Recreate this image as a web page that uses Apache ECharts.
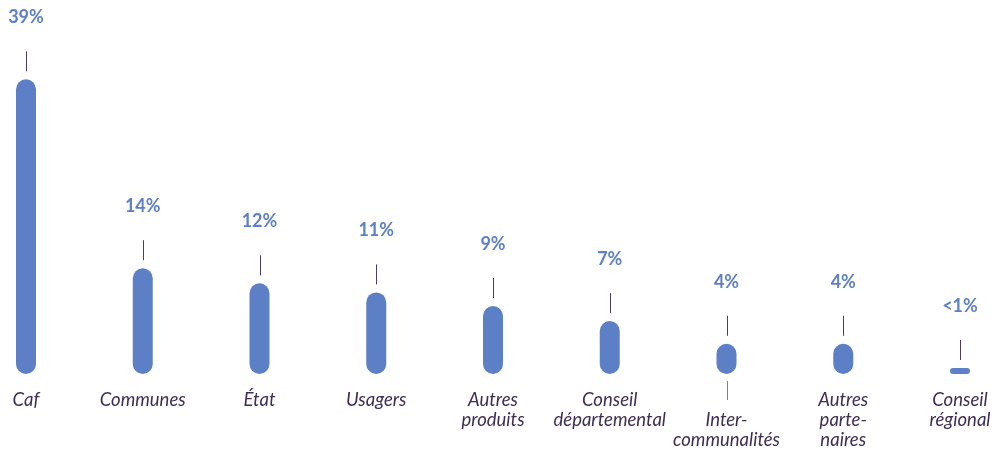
<!DOCTYPE html>
<html><head><meta charset="utf-8">
<script src="https://cdn.jsdelivr.net/npm/echarts@6/dist/echarts.min.js"></script>
<style>html,body{margin:0;padding:0;background:#fff}#c{width:996px;height:450px}</style>
</head><body><div id="c"></div>
<script>
var categories = ['Caf','Communes','État','Usagers','Autres\nproduits','Conseil\ndépartemental','\nInter-\ncommunalités','Autres\nparte-\nnaires','Conseil\nrégional'];
var values = [39, 14, 12, 10.8, 9, 7, 4, 4, 0.8];
var valueLabels = ['39%','14%','12%','11%','9%','7%','4%','4%','<1%'];
var underLine = [0, 0, 0, 0, 0, 0, 1, 0, 0];

var chart = echarts.init(document.getElementById('c'), null, {renderer:'canvas'});
chart.setOption({
  animation:false,
  grid:{left:26, right:36, top:0, bottom:74},
  xAxis:{type:'category', data:categories, boundaryGap:false,
    axisLine:{show:false}, axisTick:{show:false}, splitLine:{show:false},
    axisLabel:{interval:0, margin:16, color:'#3f2d55', fontFamily:'Lato', fontStyle:'italic', fontSize:18.5, lineHeight:20, verticalAlign:'top'}},
  yAxis:{type:'value', min:0, max:49.5, show:false, splitLine:{show:false}},
  series:[
    {type:'bar', data:values, barWidth:20,
     itemStyle:{color:'#5d7fc5', borderRadius:10},
     label:{show:true, position:'top', distance:53, color:'#5d7fc5', fontFamily:'Lato', fontWeight:'bold', fontSize:18,
       formatter:function(p){return valueLabels[p.dataIndex];}}},
    {type:'custom', data:values.map(function(v,i){return [i,v,underLine[i]];}), z:5, silent:true,
     renderItem:function(params, api){
       var top = api.coord([api.value(0), api.value(1)]);
       var base = api.coord([api.value(0), 0]);
       var x = Math.round(top[0]) + 0.5;
       var children = [{type:'line', shape:{x1:x, y1:top[1]-28, x2:x, y2:top[1]-8}, style:{stroke:'#4a3a5e', lineWidth:1}}];
       if (api.value(2)) {
         children.push({type:'line', shape:{x1:x, y1:base[1]+7, x2:x, y2:base[1]+26}, style:{stroke:'#8a6fc6', lineWidth:1}});
       }
       return {type:'group', children:children};
     }}
  ]
});
</script></body></html>
